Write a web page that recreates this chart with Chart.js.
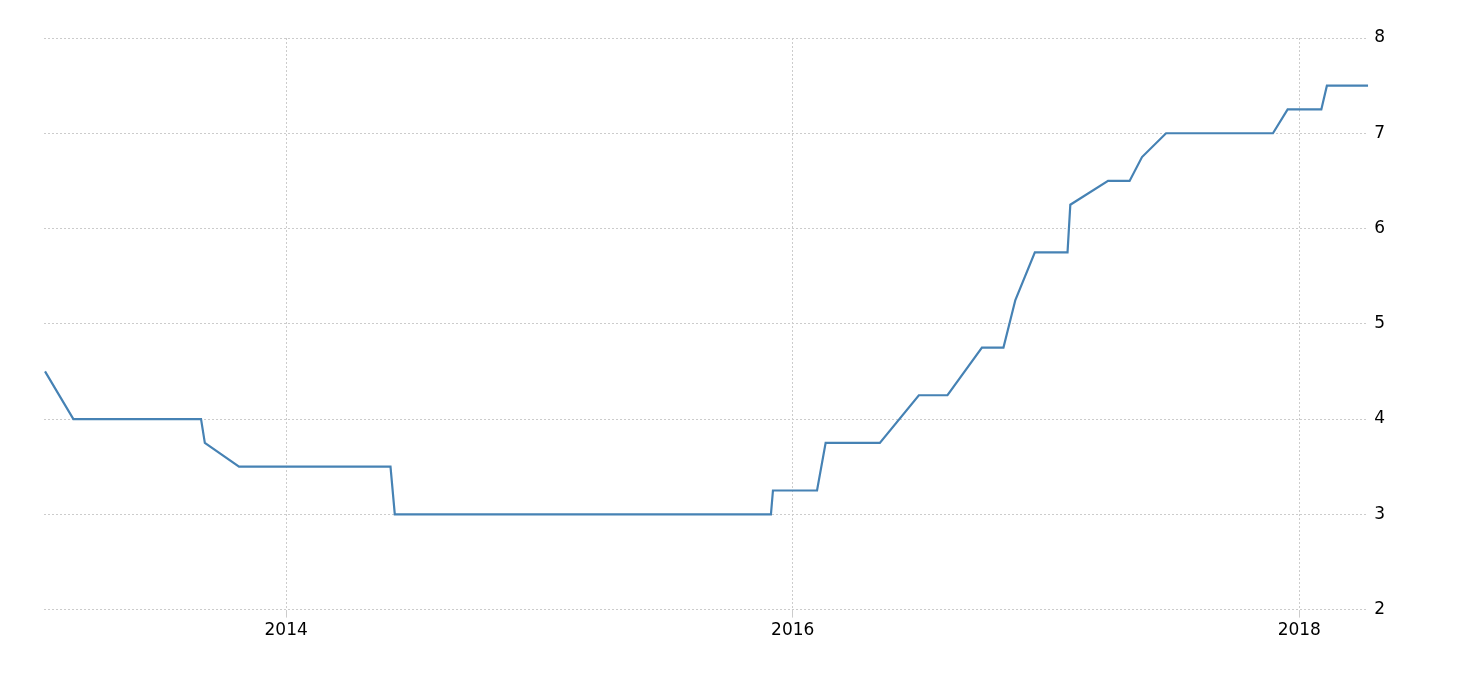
<!DOCTYPE html>
<html>
<head>
<meta charset="utf-8">
<script src="https://cdn.jsdelivr.net/npm/chart.js@4/dist/chart.umd.min.js"></script>
<style>
    html, body { margin: 0; padding: 0; background: #ffffff; }
    #wrap { width: 1460px; height: 680px; }
</style>
</head>
<body>
<div id="wrap"><canvas id="rateChart"></canvas></div>
<script>
// Dates as decimal years
const dates = [
    2013.048, 2013.160, 2013.664, 2013.679, 2013.814, 2014.412, 2014.429,
    2015.914, 2015.922, 2016.096, 2016.130, 2016.344, 2016.498, 2016.611,
    2016.747, 2016.832, 2016.879, 2016.956, 2017.085, 2017.096, 2017.245,
    2017.330, 2017.379, 2017.474, 2017.896, 2017.954, 2018.087, 2018.109,
    2018.272
];
const rates = [
    4.5, 4.0, 4.0, 3.75, 3.5, 3.5, 3.0,
    3.0, 3.25, 3.25, 3.75, 3.75, 4.25, 4.25,
    4.75, 4.75, 5.25, 5.75, 5.75, 6.25, 6.5,
    6.5, 6.75, 7.0, 7.0, 7.25, 7.25, 7.5,
    7.5
];
const yearTicks = [2014, 2016, 2018];
const xMin = 2013.044;
const xMax = 2018.272;

const gridColor = '#cccccc';

const canvasContext = document.getElementById('rateChart').getContext('2d');

const chart = new Chart(canvasContext, {
    type: 'line',
    data: {
        datasets: [{
            data: dates.map((d, i) => ({ x: d, y: rates[i] })),
            borderColor: '#4682b4',
            borderWidth: 2.2,
            pointRadius: 0,
            tension: 0,
            fill: false
        }]
    },
    options: {
        responsive: true,
        maintainAspectRatio: false,
        animation: false,
        layout: {
            padding: { left: 44, top: 38, right: 69, bottom: 36 }
        },
        plugins: {
            legend: { display: false },
            tooltip: { enabled: false }
        },
        scales: {
            x: {
                type: 'linear',
                min: xMin,
                max: xMax,
                afterBuildTicks: scale => {
                    scale.ticks = yearTicks.map(v => ({ value: v }));
                },
                ticks: {
                    callback: value => String(value),
                    color: '#000000',
                    font: { family: 'DejaVu Sans', size: 17 },
                    padding: 3,
                    maxRotation: 0
                },
                grid: {
                    color: gridColor,
                    lineWidth: 1,
                    drawTicks: true,
                    tickLength: 8
                },
                border: { display: false, dash: [2, 2] }
            },
            y: {
                position: 'right',
                min: 2,
                max: 8,
                ticks: {
                    stepSize: 1,
                    color: '#000000',
                    font: { family: 'DejaVu Sans', size: 17 },
                    padding: 6
                },
                grid: {
                    color: gridColor,
                    lineWidth: 1,
                    drawTicks: false
                },
                border: { display: false, dash: [2, 2] }
            }
        }
    }
});
</script>
</body>
</html>
